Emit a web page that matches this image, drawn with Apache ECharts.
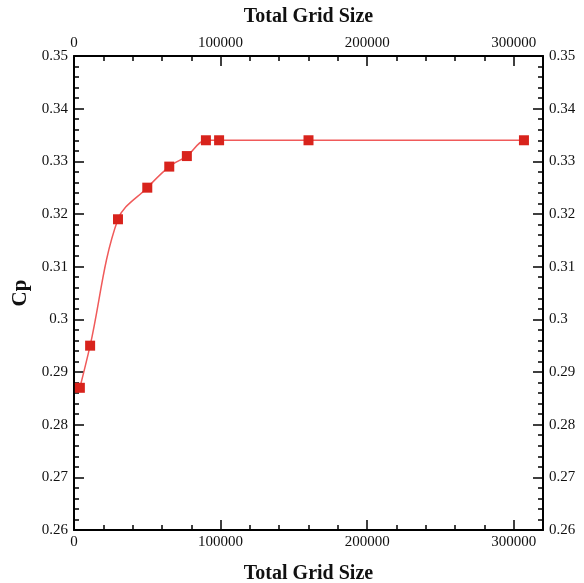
<!DOCTYPE html>
<html>
<head>
<meta charset="utf-8">
<script src="https://cdn.jsdelivr.net/npm/echarts@6/dist/echarts.min.js"></script>
<style>
  html, body { margin: 0; padding: 0; background: #fff; }
  #chart { width: 584px; height: 583px; }
</style>
</head>
<body>
<div id="chart"></div>
<script>
// grid size vs Cp
var gridSize = [4000, 11000, 30000, 50000, 65000, 77000, 90000, 99000, 160000, 307000]
var cpValues = [0.287, 0.295, 0.319, 0.325, 0.329, 0.331, 0.334, 0.334, 0.334, 0.334]
var xName = 'Total Grid Size'
var yName = 'Cp'

var font = 'Liberation Serif'
var chart = echarts.init(document.getElementById('chart'))

var labelX = function(v) {
  return v % 100000 === 0 ? String(v) : ''
}
var labelY = function(v) {
  return String(+v.toFixed(2))
}

// minor axis (ticks every 20000, with labels) + major axis (longer ticks every 100000)
function xMinor(pos) {
  return {
    type: 'value', position: pos, min: 0, max: 320000, interval: 20000,
    name: xName, nameLocation: 'middle', nameGap: pos === 'top' ? 29 : 34,
    nameTextStyle: { fontFamily: font, fontWeight: 'bold', fontSize: 20, color: '#111' },
    axisLine: { show: true, onZero: false, lineStyle: { color: '#000', width: 2 } },
    axisTick: { show: true, inside: true, length: 5, lineStyle: { color: '#000', width: 1.5 } },
    axisLabel: { formatter: labelX, fontFamily: font, fontSize: 15, color: '#111', margin: 5 },
    splitLine: { show: false }
  }
}
function xMajor(pos) {
  return {
    type: 'value', position: pos, min: 0, max: 320000, interval: 100000,
    axisLine: { show: false, onZero: false },
    axisTick: { show: true, inside: true, length: 10, lineStyle: { color: '#000', width: 1.5 } },
    axisLabel: { show: false },
    splitLine: { show: false }
  }
}
function yAxis(pos) {
  return {
    type: 'value', position: pos, min: 0.26, max: 0.35, interval: 0.01,
    name: pos === 'left' ? yName : '', nameLocation: 'middle', nameGap: 37,
    nameTextStyle: { fontFamily: font, fontWeight: 'bold', fontSize: 21, color: '#111' },
    axisLine: { show: true, onZero: false, lineStyle: { color: '#000', width: 2 } },
    axisTick: { show: true, inside: true, length: 10, lineStyle: { color: '#000', width: 1.5 } },
    minorTick: { show: true, splitNumber: 5, length: 5, lineStyle: { color: '#000', width: 1.5 } },
    axisLabel: { formatter: labelY, fontFamily: font, fontSize: 15, color: '#111', margin: 6 },
    splitLine: { show: false }
  }
}

chart.setOption({
  animation: false,
  backgroundColor: '#fff',
  grid: { left: 74, right: 41, top: 56, bottom: 53, containLabel: false, outerBoundsMode: 'none' },
  xAxis: [xMinor('bottom'), xMinor('top'), xMajor('bottom'), xMajor('top')],
  yAxis: [yAxis('left'), yAxis('right')],
  series: [{
    type: 'line',
    xAxisIndex: 0,
    yAxisIndex: 0,
    data: gridSize.map(function(x, i) { return [x, cpValues[i]] }),
    smooth: 0.35,
    symbol: 'rect',
    symbolSize: 10,
    lineStyle: { color: '#f05a5a', width: 1.5 },
    itemStyle: { color: '#d8231c', borderWidth: 0 }
  }]
})
</script>
</body>
</html>
